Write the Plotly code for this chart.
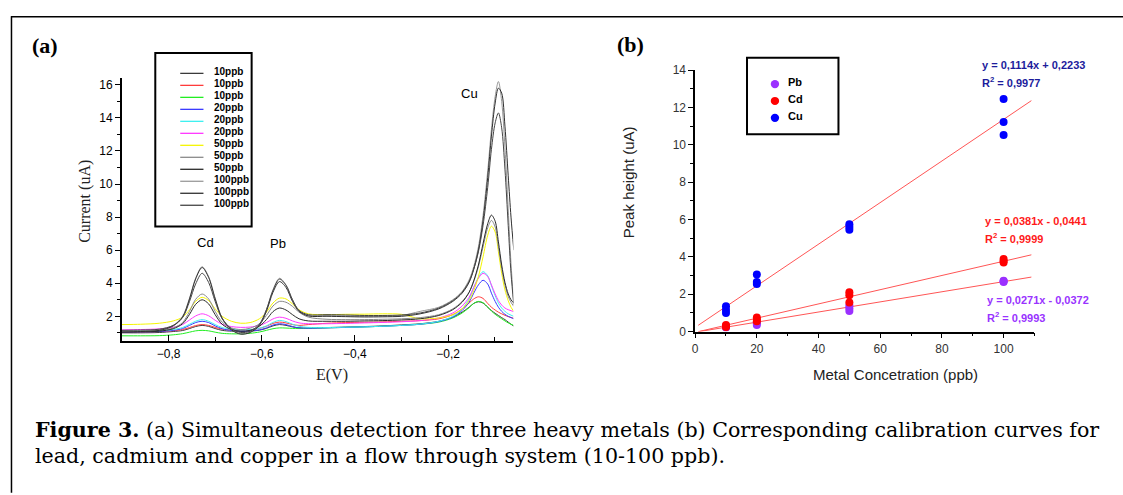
import plotly.graph_objects as go

W, H = 1123, 495

# ---------------- Panel (a) data: voltammograms ----------------
E_V = [-0.90, -0.86, -0.82, -0.79, -0.77, -0.755, -0.742, -0.728, -0.714, -0.70,
       -0.685, -0.665, -0.645, -0.625, -0.605, -0.59, -0.576, -0.562, -0.548, -0.534,
       -0.52, -0.50, -0.46, -0.42, -0.38, -0.34, -0.30, -0.26, -0.22, -0.19,
       -0.17, -0.155, -0.145, -0.135, -0.125, -0.115, -0.107, -0.099, -0.092, -0.085,
       -0.078, -0.071, -0.065, -0.059]

curve_names = ["10ppb", "10ppb", "10ppb", "20ppb", "20ppb", "20ppb",
               "50ppb", "50ppb", "50ppb", "100ppb", "100ppb", "100ppb"]
curve_colors = ["#3a3a3a", "#ff3b3b", "#22ee22", "#3b3bff", "#3ff0f0", "#ff3bff",
                "#f5f500", "#8a8a8a", "#2a2a2a", "#9a9a9a", "#303030", "#454545"]

i_10a = [1.00, 1.00, 1.02, 1.08, 1.14, 1.26, 1.38, 1.45, 1.39, 1.26, 1.15, 1.10, 1.08, 1.10, 1.16,
         1.27, 1.42, 1.50, 1.45, 1.36, 1.30, 1.30, 1.32, 1.35, 1.38, 1.42, 1.48, 1.55, 1.70, 1.95,
         2.25, 2.55, 2.78, 2.88, 2.80, 2.55, 2.35, 2.18, 2.05, 1.92, 1.80, 1.65, 1.52, 1.40]
i_10b = [1.05, 1.06, 1.08, 1.13, 1.20, 1.32, 1.44, 1.50, 1.45, 1.33, 1.22, 1.18, 1.17, 1.19, 1.27,
         1.40, 1.57, 1.65, 1.60, 1.50, 1.45, 1.50, 1.58, 1.62, 1.64, 1.66, 1.70, 1.74, 1.85, 2.10,
         2.45, 2.80, 3.05, 3.18, 3.08, 2.78, 2.55, 2.38, 2.25, 2.15, 2.06, 1.98, 1.93, 1.88]
i_10c = [0.82, 0.82, 0.83, 0.88, 0.95, 1.04, 1.12, 1.15, 1.12, 1.04, 0.97, 0.94, 0.94, 0.97, 1.05,
         1.15, 1.25, 1.30, 1.29, 1.27, 1.26, 1.27, 1.30, 1.33, 1.36, 1.40, 1.45, 1.52, 1.65, 1.90,
         2.20, 2.52, 2.78, 2.90, 2.82, 2.55, 2.32, 2.12, 1.98, 1.85, 1.72, 1.60, 1.52, 1.45]
i_20a = [1.05, 1.06, 1.08, 1.15, 1.26, 1.45, 1.62, 1.70, 1.62, 1.42, 1.25, 1.14, 1.10, 1.12, 1.18,
         1.30, 1.47, 1.55, 1.50, 1.38, 1.30, 1.28, 1.30, 1.33, 1.36, 1.40, 1.45, 1.52, 1.68, 1.95,
         2.35, 2.85, 3.40, 3.90, 4.18, 3.95, 3.40, 2.90, 2.55, 2.30, 2.12, 2.00, 1.92, 1.85]
i_20b = [1.10, 1.11, 1.13, 1.20, 1.32, 1.52, 1.70, 1.80, 1.70, 1.50, 1.32, 1.22, 1.18, 1.20, 1.28,
         1.42, 1.63, 1.75, 1.68, 1.52, 1.40, 1.33, 1.32, 1.34, 1.36, 1.40, 1.45, 1.53, 1.70, 2.00,
         2.45, 3.05, 3.75, 4.35, 4.70, 4.45, 3.85, 3.25, 2.80, 2.50, 2.30, 2.15, 2.07, 2.00]
i_20c = [1.18, 1.20, 1.24, 1.34, 1.50, 1.78, 2.02, 2.15, 2.03, 1.76, 1.52, 1.38, 1.33, 1.35, 1.45,
         1.62, 1.84, 1.95, 1.88, 1.72, 1.60, 1.55, 1.55, 1.57, 1.60, 1.63, 1.67, 1.74, 1.90, 2.20,
         2.62, 3.15, 3.75, 4.30, 4.60, 4.40, 3.90, 3.35, 2.95, 2.68, 2.50, 2.40, 2.34, 2.28]
i_50a = [1.50, 1.52, 1.58, 1.72, 1.95, 2.40, 2.90, 3.15, 2.95, 2.45, 2.00, 1.70, 1.58, 1.62, 1.85,
         2.25, 2.80, 3.10, 3.05, 2.75, 2.40, 2.15, 2.10, 2.12, 2.13, 2.15, 2.12, 1.85, 1.90, 2.10,
         2.45, 2.95, 3.55, 4.40, 5.60, 6.90, 7.45, 7.10, 5.90, 4.60, 3.60, 2.95, 2.55, 2.30]
i_50b = [1.08, 1.10, 1.14, 1.30, 1.62, 2.30, 3.02, 3.35, 3.05, 2.30, 1.65, 1.30, 1.20, 1.28, 1.55,
         2.05, 2.62, 2.90, 2.85, 2.60, 2.25, 1.95, 1.82, 1.80, 1.80, 1.82, 1.85, 1.92, 2.10, 2.45,
         2.90, 3.45, 4.10, 5.00, 6.20, 7.35, 7.80, 7.40, 6.20, 4.90, 3.90, 3.20, 2.85, 2.60]
i_50c = [1.05, 1.06, 1.10, 1.25, 1.55, 2.12, 2.72, 3.00, 2.75, 2.10, 1.52, 1.20, 1.10, 1.15, 1.40,
         1.80, 2.28, 2.50, 2.38, 2.10, 1.85, 1.72, 1.70, 1.70, 1.72, 1.74, 1.78, 1.85, 2.05, 2.40,
         2.85, 3.45, 4.15, 5.10, 6.40, 7.60, 8.12, 7.75, 6.50, 5.10, 4.05, 3.35, 3.00, 2.80]
i_100a = [1.10, 1.12, 1.18, 1.45, 2.00, 3.10, 4.30, 5.00, 4.40, 3.10, 1.90, 1.20, 0.95, 1.05, 1.50,
          2.40, 3.60, 4.30, 3.90, 3.00, 2.35, 2.05, 2.05, 2.02, 2.00, 2.02, 2.05, 2.30, 2.55, 3.00,
          3.50, 4.20, 5.00, 6.20, 8.10, 10.80, 13.30, 15.30, 16.20, 15.00, 12.20, 8.50, 5.20, 2.80]
i_100b = [1.05, 1.08, 1.15, 1.42, 1.95, 3.05, 4.25, 4.95, 4.35, 3.05, 1.88, 1.18, 0.92, 1.02, 1.45,
          2.30, 3.45, 4.10, 3.75, 2.90, 2.30, 2.02, 2.00, 1.98, 1.96, 1.97, 2.00, 2.15, 2.45, 2.90,
          3.40, 4.05, 4.85, 6.00, 7.80, 10.40, 12.90, 14.90, 15.80, 15.50, 13.50, 10.50, 8.00, 6.00]
i_100c = [1.15, 1.17, 1.22, 1.45, 1.92, 2.90, 3.95, 4.60, 4.05, 2.90, 1.85, 1.25, 1.02, 1.10, 1.52,
          2.40, 3.55, 4.25, 3.88, 3.00, 2.35, 2.10, 2.10, 2.08, 2.05, 2.05, 2.08, 2.20, 2.50, 2.95,
          3.45, 4.10, 4.85, 5.90, 7.50, 9.80, 12.10, 13.70, 14.30, 13.40, 10.90, 7.50, 4.60, 2.70]

currents = [i_10a, i_10b, i_10c, i_20a, i_20b, i_20c, i_50a, i_50b, i_50c, i_100a, i_100b, i_100c]

peak_labels = ["Cd", "Pb", "Cu"]
peak_label_E = [-0.72, -0.565, -0.154]
peak_label_I = [6.45, 6.4, 15.46]

# ---------------- Panel (b) data: calibration ----------------
conc = [10, 10, 10, 20, 20, 20, 50, 50, 50, 100, 100, 100]
pb_height = [0.22, 0.25, 0.28, 0.35, 0.45, 0.50, 1.10, 1.25, 1.40, 2.65, 2.70, 2.72]
cd_height = [0.25, 0.30, 0.35, 0.55, 0.65, 0.75, 1.55, 1.95, 2.10, 3.70, 3.78, 3.88]
cu_height = [1.00, 1.15, 1.35, 2.55, 2.65, 3.05, 5.45, 5.60, 5.75, 10.53, 11.22, 12.45]

metals = ["Pb", "Cd", "Cu"]
metal_colors = ["#9b30ff", "#ff0000", "#0000ff"]
eq_colors = ["#9933ff", "#ff1a1a", "#1c1c9c"]
slopes = [0.0271, 0.0381, 0.1114]
intercepts = [-0.0372, -0.0441, 0.2233]
eq_text = ["y = 0,0271x - 0,0372", "y = 0,0381x - 0,0441", "y = 0,1114x + 0,2233"]
r2_text = ["R<sup>2</sup> = 0,9993", "R<sup>2</sup> = 0,9999", "R<sup>2</sup> = 0,9977"]
fit_x = [1, 109]


def px(x):
    return x / W


def py(y):
    return 1 - y / H


fig = go.Figure()

# Panel (a) curves
for name, col, cur in zip(curve_names, curve_colors, currents):
    fig.add_trace(go.Scatter(x=E_V, y=cur, mode="lines", name=name,
                             line=dict(color=col, width=1, shape="spline", smoothing=0.9),
                             xaxis="x", yaxis="y", showlegend=False, hoverinfo="skip"))

# Panel (b) fit lines then points
heights = [pb_height, cd_height, cu_height]
for m, s, b0 in zip(metals, slopes, intercepts):
    fig.add_trace(go.Scatter(x=fit_x, y=[s * v + b0 for v in fit_x], mode="lines",
                             line=dict(color="#ff5555", width=1), xaxis="x2", yaxis="y2",
                             showlegend=False, hoverinfo="skip"))
for m, col, h in zip(metals, metal_colors, heights):
    fig.add_trace(go.Scatter(x=conc, y=h, mode="markers", name=m,
                             marker=dict(color=col, size=8, line=dict(width=0)),
                             xaxis="x2", yaxis="y2", showlegend=False))

tickfont_a = dict(family="Liberation Sans, Arial", size=12, color="#000")
tickfont_b = dict(family="Liberation Sans, Arial", size=12, color="#333")

fig.update_layout(
    width=W, height=H, margin=dict(l=0, r=0, t=0, b=0),
    paper_bgcolor="white", plot_bgcolor="white",
    separators=",.",
    xaxis=dict(domain=[px(119.3), px(511.7)], range=[-0.9, -0.06], anchor="y",
               showline=True, linecolor="black", linewidth=2, showgrid=False, zeroline=False,
               ticks="inside", ticklen=6, tickwidth=1, tickcolor="black",
               tick0=-0.8, dtick=0.2, tickformat=".1f", tickfont=tickfont_a,
               minor=dict(ticks="inside", ticklen=4, dtick=0.1, tick0=-0.9, tickcolor="black")),
    yaxis=dict(domain=[py(344), py(73.3)], range=[0.49, 16.4], anchor="x",
               showline=True, linecolor="black", linewidth=2, showgrid=False, zeroline=False,
               ticks="outside", ticklen=5, tickwidth=1, tickcolor="black",
               tickfont=tickfont_a, tickvals=[2, 4, 6, 8, 10, 12, 14, 16],
               minor=dict(ticks="outside", ticklen=3, tickvals=[1, 3, 5, 7, 9, 11, 13, 15],
                          tickcolor="black")),
    xaxis2=dict(domain=[px(694), px(1034.2)], range=[0, 110], anchor="y2",
                showline=True, linecolor="black", linewidth=1.5, showgrid=False, zeroline=False,
                ticks="outside", ticklen=5, tickcolor="black", tick0=0, dtick=20,
                tickfont=tickfont_b,
                minor=dict(ticks="outside", ticklen=3, dtick=10, tickcolor="black")),
    yaxis2=dict(domain=[py(334), py(65)], range=[0, 14], anchor="x2",
                showline=True, linecolor="black", linewidth=1.5, showgrid=False, zeroline=False,
                ticks="outside", ticklen=5, tickcolor="black", tick0=0, dtick=2,
                tickfont=tickfont_b,
                minor=dict(ticks="outside", ticklen=3, dtick=1, tickcolor="black")),
)

ann = []
shapes = []


def note(text, x, y, xa="center", ya="middle", size=12, color="black", family=None,
         angle=0, xref="paper", yref="paper"):
    if xref == "paper":
        x = px(x)
    if yref == "paper":
        y = py(y)
    ann.append(dict(text=text, x=x, y=y, xref=xref, yref=yref, xanchor=xa, yanchor=ya,
                    showarrow=False, textangle=angle,
                    font=dict(family=family, size=size, color=color)))


# Outer frame (left and top edges)
shapes.append(dict(type="line", xref="paper", yref="paper", x0=px(8.5), x1=px(8.5),
                   y0=py(9.5), y1=py(H + 5), line=dict(color="black", width=1.5)))
shapes.append(dict(type="line", xref="paper", yref="paper", x0=px(8), x1=px(W + 5),
                   y0=py(10), y1=py(10), line=dict(color="black", width=1.5)))

serif = "Liberation Serif, Times New Roman, serif"
sans = "Liberation Sans, Arial, sans-serif"
caption_font = "DejaVu Serif, serif"

# Panel labels
note("<b>(a)</b>", 41.7, 40, size=22, family=serif)
note("<b>(b)</b>", 629.5, 38.5, size=22, family=serif)

# Axis titles
note("Current (uA)", 82.7, 200, size=16, family=serif, color="#222", angle=-90)
note("E(V)", 330, 378.5, size=16, family=serif, color="#222")
note("Peak height (uA)", 628, 180, size=15, family=sans, color="#222", angle=-90)
note("Metal Concetration (ppb)", 895, 378, size=15, family=sans, color="#222")

# Peak labels in (a)
for t, ex, iy in zip(peak_labels, peak_label_E, peak_label_I):
    note(t, ex, iy, size=13, family=sans, xref="x", yref="y")

# Legend (a)
shapes.append(dict(type="rect", xref="paper", yref="paper", x0=px(152.7), x1=px(249.3),
                   y0=py(226), y1=py(47.3), line=dict(color="black", width=2)))
for k, (name, col) in enumerate(zip(curve_names, curve_colors)):
    yy = 68.3 + k * 12.34
    shapes.append(dict(type="line", xref="paper", yref="paper", x0=px(177.7), x1=px(201),
                       y0=py(yy), y1=py(yy), line=dict(color=col, width=1.3)))
    note("<b>" + name + "</b>", 210, yy - 1.5, xa="left", size=10, family=sans)

# Legend (b)
shapes.append(dict(type="rect", xref="paper", yref="paper", x0=px(746), x1=px(837.7),
                   y0=py(131), y1=py(52.3), line=dict(color="black", width=2)))
for k, (m, col) in enumerate(zip(metals, metal_colors)):
    yy = 79.3 + k * 17.4
    r = 4.2
    shapes.append(dict(type="circle", xref="paper", yref="paper", x0=px(774 - r), x1=px(774 + r),
                       y0=py(yy + r), y1=py(yy - r), fillcolor=col, line=dict(width=0)))
    note("<b>" + m + "</b>", 785, yy - 2, xa="left", size=11, family=sans)

# Equations (b)
eq_x = [985, 982.7, 980]
eq_y = [301.7, 220, 60]
for k in range(3):
    note("<b>" + eq_text[k] + "</b>", eq_x[k], eq_y[k], xa="left", size=11, family=sans,
         color=eq_colors[k])
    note("<b>" + r2_text[k] + "</b>", eq_x[k], eq_y[k] + 17.5, xa="left", size=11, family=sans,
         color=eq_colors[k])

# Caption
note("<b>Figure 3.</b> (a) Simultaneous detection for three heavy metals (b) "
     "Corresponding calibration curves for", 30, 435, xa="left", size=20.6, family=caption_font)
note("lead, cadmium and copper in a flow through system (10-100 ppb).", 30, 462, xa="left",
     size=20.6, family=caption_font)

fig.update_layout(annotations=ann, shapes=shapes)
fig.write_html("out.html", config={"displayModeBar": False},
               post_script="document.body.style.margin='0px';"
                           "document.body.style.overflow='hidden';")
